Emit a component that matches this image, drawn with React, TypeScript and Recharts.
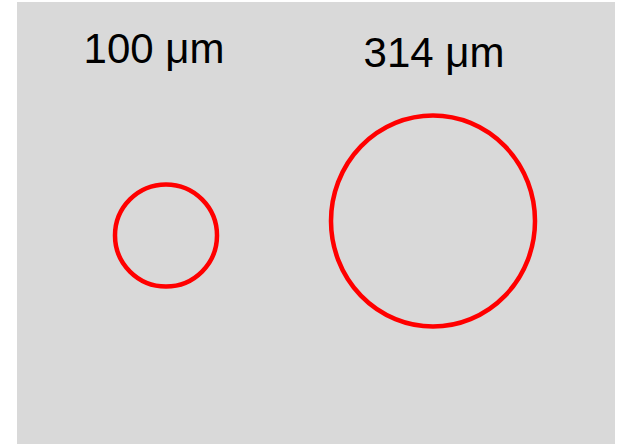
import { ScatterChart, Scatter, XAxis, YAxis, CartesianGrid } from "recharts";

// two circles, positions in plot units (1 unit = 1px here)
const labels = ["100 μm", "314 μm"];
const centerX = [149, 416];
const centerY = [233.5, 219];
const radiusX = [51, 102];
const radiusY = [51, 105.5];
const labelX = [137, 417];
const labelY = [61.3, 64.7];

const circles = labels.map((name, i) => ({
  name,
  x: centerX[i],
  y: centerY[i],
  rx: radiusX[i],
  ry: radiusY[i],
}));

const texts = labels.map((name, i) => ({ name, x: labelX[i], y: labelY[i] }));

const W = 621;
const H = 444;
const margin = { top: 2, right: 6, bottom: 0, left: 17 };
const plotW = W - margin.left - margin.right;
const plotH = H - margin.top - margin.bottom;

const Ring = (props: any) => {
  const { cx, cy, payload } = props;
  return (
    <ellipse
      cx={cx}
      cy={cy}
      rx={payload.rx}
      ry={payload.ry}
      fill="none"
      stroke="#ff0000"
      strokeWidth={4.5}
    />
  );
};

const Label = (props: any) => {
  const { cx, cy, payload } = props;
  return (
    <text
      x={cx}
      y={cy}
      textAnchor="middle"
      fontFamily="'Liberation Sans', Arial, sans-serif"
      fontSize={42}
      fill="#000000"
    >
      {payload.name}
    </text>
  );
};

export default function App() {
  return (
    <div style={{ position: "absolute", left: 0, top: 0, width: W, height: H, background: "#ffffff" }}>
      <ScatterChart width={W} height={H} margin={margin}>
        <CartesianGrid horizontal={false} vertical={false} fill="#d9d9d9" />
        <XAxis type="number" dataKey="x" domain={[0, plotW]} hide />
        <YAxis type="number" dataKey="y" domain={[0, plotH]} reversed hide />
        <Scatter data={circles} shape={Ring} isAnimationActive={false} />
        <Scatter data={texts} shape={Label} isAnimationActive={false} />
      </ScatterChart>
    </div>
  );
}
